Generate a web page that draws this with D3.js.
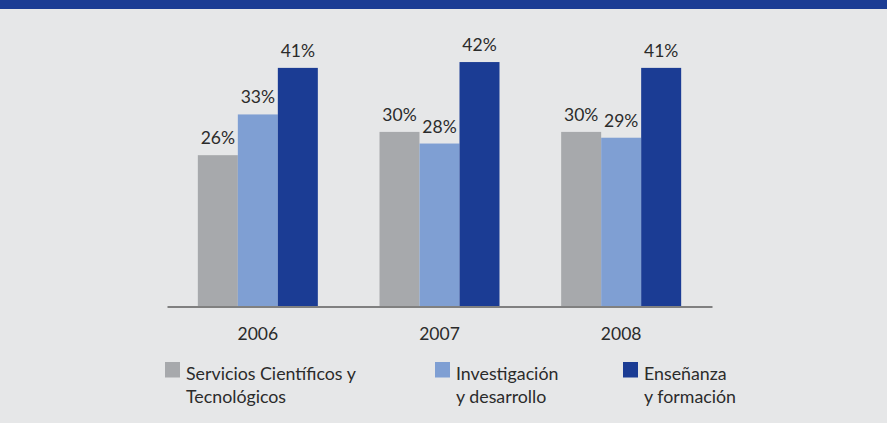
<!DOCTYPE html>
<html>
<head>
<meta charset="utf-8">
<script src="https://cdn.jsdelivr.net/npm/d3@7"></script>
<style>
  body { margin: 0; background: #e6e7e8; }
  svg text { font-family: Lato, "Open Sans", sans-serif; fill: #2b2b2b; }
</style>
</head>
<body>
<div class="chart"></div>
<script>
// data
var years = ["2006", "2007", "2008"];
var series = ["Servicios Científicos y Tecnológicos", "Investigación y desarrollo", "Enseñanza y formación"];
var serviciosValues = [26, 30, 30];
var investigacionValues = [33, 28, 29];
var ensenanzaValues = [41, 42, 41];
// legend text broken onto two lines like the original
var legendLines = [
  ["Servicios Científicos y", "Tecnológicos"],
  ["Investigación", "y desarrollo"],
  ["Enseñanza", "y formación"]
];

var colors = ["#a7a9ac", "#7f9fd3", "#1b3c94"];

var width = 887, height = 423;

var svg = d3.select(".chart")
    .append("svg")
    .attr("width", width)
    .attr("height", height);

// background and the blue band on top
svg.append("rect")
    .attr("width", width)
    .attr("height", height)
    .attr("fill", "#e6e7e8");
svg.append("rect")
    .attr("width", width)
    .attr("height", 9)
    .attr("fill", "#1b3c94");

// build rows: one per year, holding the three series
var allValues = [serviciosValues, investigacionValues, ensenanzaValues];
var data = years.map(function(yr, i) {
  return {
    year: yr,
    values: series.map(function(s, j) { return {key: s, value: allValues[j][i], idx: j}; })
  };
});

var baseY = 306.5;

var x0 = d3.scaleBand()
    .domain(years)
    .range([167, 712])
    .padding(0);

var x1 = d3.scaleBand()
    .domain(series)
    .range([0, 120]);

var y = d3.scaleLinear()
    .domain([0, 50])
    .range([baseY, baseY - 291]);

var groupOffset = (x0.bandwidth() - 120) / 2;

var groups = svg.selectAll(".group")
    .data(data)
    .enter().append("g")
    .attr("class", "group")
    .attr("transform", function(d) { return "translate(" + (x0(d.year) + groupOffset) + ",0)"; });

groups.selectAll("rect")
    .data(function(d) { return d.values; })
    .enter().append("rect")
    .attr("x", function(d) { return x1(d.key); })
    .attr("width", x1.bandwidth())
    .attr("y", function(d) { return y(d.value); })
    .attr("height", function(d) { return baseY - y(d.value); })
    .attr("fill", function(d) { return colors[d.idx]; });

// value labels above bars
groups.selectAll(".val")
    .data(function(d) { return d.values; })
    .enter().append("text")
    .attr("class", "val")
    .attr("x", function(d) { return x1(d.key) + x1.bandwidth() / 2; })
    .attr("y", function(d) { return y(d.value) - 11; })
    .attr("text-anchor", "middle")
    .style("font-size", "17.5px")
    .text(function(d) { return d.value + "%"; });

// x axis (only the line and year labels)
var xAxis = svg.append("g")
    .attr("class", "x axis")
    .attr("transform", "translate(0," + baseY + ")")
    .call(d3.axisBottom(x0).tickSize(0).tickSizeOuter(0));

xAxis.select(".domain")
    .attr("stroke", "#808080")
    .attr("stroke-width", 2.2);

xAxis.selectAll("text")
    .attr("y", 33.5)
    .attr("dy", 0)
    .style("font-size", "17.5px")
    .style("fill", "#2b2b2b");

// legend
var legendX = [165, 435, 623];
var legend = svg.selectAll(".legend")
    .data(series)
    .enter().append("g")
    .attr("class", "legend")
    .attr("transform", function(d, i) { return "translate(" + legendX[i] + ",362)"; });

legend.append("rect")
    .attr("width", 15)
    .attr("height", 15.5)
    .attr("fill", function(d, i) { return colors[i]; });

legend.append("text")
    .attr("x", 21)
    .attr("y", 18)
    .style("font-size", "17.8px")
    .selectAll("tspan")
    .data(function(d, i) { return legendLines[i]; })
    .enter().append("tspan")
    .attr("x", 21)
    .attr("dy", function(d, i) { return i === 0 ? 0 : 23; })
    .text(function(d) { return d; });
</script>
</body>
</html>
